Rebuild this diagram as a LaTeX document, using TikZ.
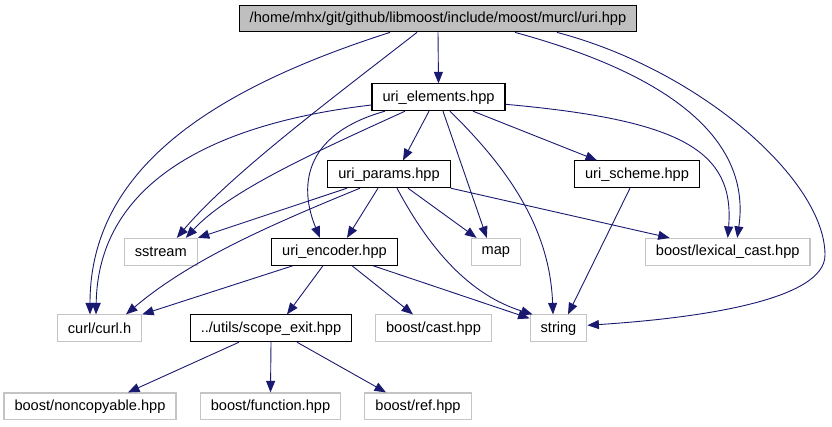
\documentclass[tikz,border=0pt]{standalone}
\usepackage{fontspec}
\setmainfont{Liberation Sans}
\usepackage{tikz}
\usetikzlibrary{arrows.meta}

\definecolor{edgeblue}{HTML}{191970}
\definecolor{extgray}{HTML}{C4C4C4}
\definecolor{rootgray}{HTML}{BFBFBF}

\begin{document}
\begin{tikzpicture}[
    x=1pt, y=-1pt,
    file/.style={draw=black, line width=1.1pt, rectangle, minimum height=26.7pt,
                 inner xsep=10.5pt, inner ysep=0pt,
                 font=\fontsize{14.6}{17}\selectfont},
    sysfile/.style={file, draw=extgray},
    dep/.style={draw=edgeblue, line width=0.9pt,
                -{Triangle[length=11.5pt,width=9pt]}}
]
    \useasboundingbox (0,0) rectangle (832,427);

    \node[file, fill=rootgray] (uri) at (438,18.5)
        {/home/mhx/git/github/libmoost/include/moost/murcl/uri.hpp};

    \node[file] (elements) at (438.5,97.3) {uri\_elements.hpp};
    \node[file] (params)   at (389,174.3)  {uri\_params.hpp};
    \node[file] (scheme)   at (637,174.3)  {uri\_scheme.hpp};

    \node[sysfile] (sstream) at (160.8,251.8) {sstream};
    \node[file]    (encoder) at (334.5,251.8) {uri\_encoder.hpp};
    \node[sysfile] (map)     at (495.8,251.8) {map};
    \node[sysfile] (lexical) at (727.7,251.8) {boost/lexical\_cast.hpp};

    \node[sysfile] (curl)   at (99.5,328.3)  {curl/curl.h};
    \node[file]    (scope)  at (271,328.3)   {../utils/scope\_exit.hpp};
    \node[sysfile] (cast)   at (433.5,328.3) {boost/cast.hpp};
    \node[sysfile] (string) at (558.5,328.3) {string};

    \node[sysfile] (noncopy)  at (90,406.3)    {boost/noncopyable.hpp};
    \node[sysfile] (function) at (270.5,406.3) {boost/function.hpp};
    \node[sysfile] (ref)      at (418,406.3)   {boost/ref.hpp};

    % uri.hpp
    \draw[dep] (uri.south) -- (elements.north);
    \draw[dep] ([xshift=-21pt]uri.south) .. controls (330,100) and (230,175)
        .. ([xshift=16pt]sstream.north);
    \draw[dep] ([xshift=-48pt]uri.south) .. controls (210,90) and (90,170)
        .. ([xshift=-9.5pt]curl.north);
    \draw[dep] ([xshift=77pt]uri.south) .. controls (690,80) and (750,150)
        .. ([xshift=9.5pt]lexical.north);
    \draw[dep] ([xshift=119pt]uri.south) .. controls (700,70) and (825,180)
        .. (825,255) .. controls (825,300) and (700,318)
        .. ([yshift=3pt]string.east);

    % uri_elements.hpp
    \draw[dep] ([yshift=-7.7pt]elements.west) .. controls (200,125) and (98,190)
        .. ([xshift=-3.5pt]curl.north);
    \draw[dep] ([xshift=-33.5pt]elements.south) .. controls (320,150) and (230,190)
        .. ([xshift=25pt]sstream.north);
    \draw[dep] ([xshift=-53.5pt]elements.south) .. controls (300,135) and (300,190)
        .. ([xshift=-14.5pt]encoder.north);
    \draw[dep] ([xshift=-9.5pt]elements.south) -- ([xshift=14pt]params.north);
    \draw[dep] ([xshift=4.5pt]elements.south) -- ([xshift=-9pt]map.north);
    \draw[dep] ([xshift=11.5pt]elements.south) .. controls (510,170) and (550,230)
        .. ([xshift=-5.5pt]string.north);
    \draw[dep] ([xshift=34.5pt]elements.south) -- ([xshift=-40pt]scheme.north);
    \draw[dep] ([yshift=-7pt]elements.east) .. controls (680,120) and (735,150)
        .. (lexical.north);

    % uri_params.hpp
    \draw[dep] ([xshift=-42pt]params.south) -- (sstream.north east);
    \draw[dep] ([xshift=-29pt]params.south) .. controls (270,225) and (190,260)
        .. ([xshift=26.5pt]curl.north);
    \draw[dep] ([xshift=-11pt]params.south) -- ([xshift=12.5pt]encoder.north);
    \draw[dep] ([xshift=19pt]params.south) -- ([xshift=6pt]map.north west);
    \draw[dep] ([xshift=8pt]params.south) .. controls (430,250) and (470,295)
        .. ([xshift=3pt]string.north west);
    \draw[dep] (params.south east) -- ([xshift=-58pt]lexical.north);

    % uri_scheme.hpp
    \draw[dep] ([xshift=-7pt]scheme.south) -- ([xshift=9.5pt]string.north);

    % uri_encoder.hpp
    \draw[dep] ([xshift=-41.5pt]encoder.south) -- (curl.north east);
    \draw[dep] ([xshift=-11.5pt]encoder.south) -- ([xshift=16pt]scope.north);
    \draw[dep] ([xshift=17.5pt]encoder.south) -- ([xshift=-20.5pt]cast.north);
    \draw[dep] ([xshift=38.5pt]encoder.south) -- ([yshift=-4pt]string.north west);

    % scope_exit.hpp
    \draw[dep] ([xshift=-32pt]scope.south) -- ([xshift=38pt]noncopy.north);
    \draw[dep] (scope.south) -- (function.north);
    \draw[dep] ([xshift=26pt]scope.south) -- ([xshift=-32pt]ref.north);
\end{tikzpicture}
\end{document}
